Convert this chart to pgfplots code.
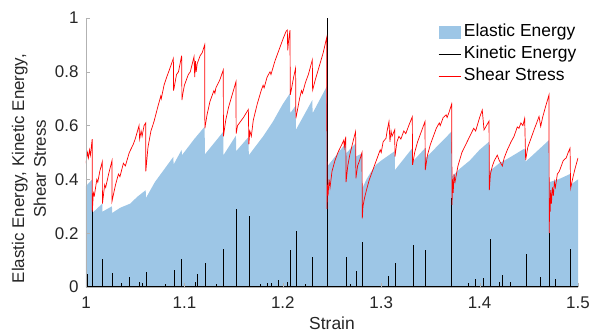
\documentclass[border=0pt]{standalone}
\usepackage{fontspec}
\setmainfont{Liberation Sans}
\usepackage{pgfplots}
\pgfplotsset{compat=1.18}
\definecolor{ebl}{RGB}{157,198,230}
\definecolor{axgray}{RGB}{38,38,38}
\pgfplotsset{
  mylinelegend/.style={legend image code/.code={\draw[##1] (0bp,0bp) -- (22bp,0bp);}},
  myarealegend/.style={legend image code/.code={\fill[ebl] (0bp,-6.5bp) rectangle (22bp,6.5bp);}},
}
\pgfplotstableread{
x y
1.0000 0.375
1.0063 0.40
1.0064 0.275
1.0166 0.31
1.0167 0.28
1.0264 0.30
1.0265 0.275
1.0350 0.295
1.0450 0.31
1.0520 0.335
1.0607 0.36
1.0608 0.33
1.0700 0.39
1.0800 0.44
1.0888 0.484
1.0890 0.455
1.0972 0.51
1.0975 0.49
1.1100 0.55
1.1206 0.596
1.1208 0.493
1.1395 0.577
1.1397 0.49
1.1524 0.563
1.1526 0.505
1.1650 0.557
1.1655 0.49
1.1800 0.56
1.1900 0.615
1.2000 0.68
1.2073 0.72
1.2076 0.646
1.2130 0.674
1.2133 0.584
1.2300 0.695
1.2303 0.646
1.2446 0.745
1.2449 0.447
1.2640 0.534
1.2643 0.497
1.2740 0.534
1.2743 0.485
1.2805 0.497
1.2808 0.367
1.2850 0.40
1.2900 0.43
1.2950 0.455
1.3000 0.47
1.3137 0.505
1.3140 0.435
1.3316 0.516
1.3319 0.466
1.3445 0.516
1.3448 0.478
1.3716 0.578
1.3720 0.41
1.3800 0.44
1.3900 0.47
1.4000 0.51
1.4096 0.54
1.4099 0.43
1.4200 0.46
1.4300 0.48
1.4458 0.515
1.4468 0.466
1.4705 0.546
1.4708 0.39
1.4800 0.40
1.4919 0.42
1.4925 0.38
1.5000 0.40
}\elastic
\pgfplotstableread{
x y
1.0013 0.05
1.0066 0.30
1.0166 0.104
1.0264 0.053
1.0363 0.015
1.0444 0.037
1.0542 0.02
1.0569 0.015
1.0617 0.057
1.0810 0.01
1.0897 0.063
1.0972 0.104
1.1108 0.02
1.1131 0.05
1.1212 0.09
1.1321 0.01
1.1399 0.14
1.1527 0.29
1.1656 0.265
1.1768 0.01
1.1842 0.015
1.1887 0.015
1.1954 0.026
1.2046 0.02
1.2080 0.137
1.2134 0.21
1.2226 0.012
1.2300 0.11
1.2452 1.0
1.2642 0.113
1.2683 0.01
1.2747 0.06
1.2808 0.166
1.2998 0.01
1.3076 0.04
1.3143 0.09
1.3323 0.156
1.3448 0.137
1.3615 0.005
1.3717 0.33
1.3889 0.015
1.3960 0.028
1.4037 0.035
1.4106 0.18
1.4200 0.02
1.4235 0.045
1.4316 0.02
1.4475 0.123
1.4614 0.038
1.4708 0.20
1.4766 0.03
1.4919 0.14
}\kinetic
\pgfplotstableread{
x y
1.0000 0.46
1.0015 0.50
1.0025 0.48
1.0035 0.51
1.0045 0.49
1.0063 0.55
1.0064 0.28
1.0075 0.35
1.0085 0.34
1.0110 0.40
1.0120 0.39
1.0140 0.43
1.0166 0.466
1.0167 0.31
1.0190 0.38
1.0200 0.37
1.0230 0.42
1.0264 0.47
1.0265 0.32
1.0300 0.38
1.0330 0.42
1.0345 0.41
1.0380 0.46
1.0400 0.45
1.0440 0.50
1.0480 0.53
1.0500 0.55
1.0539 0.60
1.0545 0.55
1.0560 0.58
1.0570 0.56
1.0590 0.60
1.0607 0.61
1.0608 0.43
1.0630 0.52
1.0660 0.58
1.0691 0.615
1.0730 0.67
1.0760 0.71
1.0765 0.70
1.0793 0.75
1.0820 0.78
1.0850 0.81
1.0888 0.85
1.0890 0.73
1.0920 0.79
1.0940 0.80
1.0972 0.86
1.0975 0.695
1.0985 0.72
1.1000 0.75
1.1020 0.77
1.1040 0.79
1.1060 0.80
1.1080 0.83
1.1098 0.856
1.1105 0.78
1.1112 0.84
1.1120 0.80
1.1130 0.83
1.1160 0.86
1.1180 0.87
1.1206 0.90
1.1208 0.59
1.1230 0.64
1.1260 0.69
1.1300 0.73
1.1310 0.72
1.1320 0.74
1.1360 0.77
1.1395 0.807
1.1397 0.56
1.1420 0.62
1.1450 0.67
1.1490 0.72
1.1524 0.763
1.1526 0.57
1.1540 0.60
1.1560 0.61
1.1600 0.63
1.1650 0.66
1.1655 0.53
1.1665 0.58
1.1680 0.56
1.1700 0.62
1.1740 0.68
1.1780 0.73
1.1800 0.75
1.1810 0.74
1.1840 0.78
1.1870 0.80
1.1880 0.79
1.1920 0.84
1.1960 0.88
1.2000 0.92
1.2033 0.95
1.2046 0.955
1.2050 0.88
1.2060 0.92
1.2073 0.955
1.2076 0.714
1.2090 0.74
1.2110 0.78
1.2130 0.813
1.2133 0.627
1.2150 0.66
1.2170 0.70
1.2190 0.73
1.2200 0.72
1.2230 0.76
1.2260 0.79
1.2300 0.844
1.2303 0.732
1.2330 0.77
1.2370 0.82
1.2410 0.87
1.2446 0.927
1.2449 0.29
1.2455 0.38
1.2460 0.34
1.2470 0.40
1.2480 0.37
1.2500 0.43
1.2530 0.47
1.2560 0.50
1.2600 0.53
1.2620 0.546
1.2625 0.52
1.2640 0.559
1.2643 0.39
1.2660 0.45
1.2680 0.49
1.2700 0.52
1.2720 0.55
1.2740 0.578
1.2743 0.404
1.2760 0.45
1.2780 0.47
1.2805 0.50
1.2808 0.255
1.2815 0.30
1.2830 0.33
1.2850 0.36
1.2880 0.40
1.2920 0.44
1.2960 0.48
1.2990 0.51
1.3000 0.50
1.3020 0.54
1.3049 0.553
1.3060 0.58
1.3079 0.615
1.3089 0.54
1.3100 0.58
1.3110 0.56
1.3137 0.584
1.3140 0.485
1.3160 0.54
1.3180 0.56
1.3200 0.55
1.3230 0.58
1.3250 0.57
1.3280 0.60
1.3316 0.633
1.3319 0.454
1.3340 0.50
1.3370 0.54
1.3400 0.57
1.3445 0.615
1.3448 0.435
1.3470 0.49
1.3500 0.53
1.3530 0.56
1.3560 0.59
1.3590 0.61
1.3600 0.60
1.3630 0.63
1.3660 0.64
1.3670 0.63
1.3690 0.65
1.3716 0.68
1.3720 0.305
1.3725 0.40
1.3732 0.35
1.3740 0.42
1.3750 0.39
1.3780 0.45
1.3820 0.50
1.3860 0.53
1.3900 0.56
1.3940 0.59
1.3960 0.58
1.4000 0.63
1.4027 0.658
1.4045 0.584
1.4070 0.60
1.4096 0.617
1.4099 0.36
1.4110 0.42
1.4130 0.45
1.4150 0.47
1.4180 0.49
1.4200 0.47
1.4231 0.45
1.4250 0.48
1.4282 0.51
1.4320 0.54
1.4350 0.56
1.4383 0.595
1.4400 0.59
1.4420 0.61
1.4440 0.60
1.4458 0.627
1.4468 0.472
1.4490 0.52
1.4520 0.55
1.4553 0.584
1.4580 0.61
1.4604 0.634
1.4621 0.597
1.4640 0.63
1.4670 0.67
1.4705 0.714
1.4708 0.20
1.4712 0.33
1.4718 0.28
1.4722 0.36
1.4730 0.31
1.4740 0.37
1.4750 0.34
1.4760 0.39
1.4770 0.37
1.4790 0.42
1.4810 0.43
1.4830 0.45
1.4850 0.47
1.4880 0.48
1.4900 0.50
1.4919 0.516
1.4925 0.367
1.4950 0.41
1.4970 0.44
1.5000 0.48
}\stress
\begin{document}
\begin{tikzpicture}
\path[use as bounding box] (-86bp,-48bp) rectangle (505bp,287bp);
\begin{axis}[at={(0,0)}, anchor=south west, scale only axis,
  width=492bp, height=269bp,
  xmin=1, xmax=1.5, ymin=0, ymax=1,
  axis lines=left, axis line style={-, draw=gray!60},
  axis on top,
  tick align=inside, major tick length=4bp, tick style={gray!60},
  xtick={1,1.1,1.2,1.3,1.4,1.5}, ytick={0,0.2,0.4,0.6,0.8,1},
  xticklabels={1,1.1,1.2,1.3,1.4,1.5}, yticklabels={0,0.2,0.4,0.6,0.8,1},
  ticklabel style={font=\fontsize{17}{19}\selectfont, text=axgray},
  xticklabel style={yshift=-6bp},
  yticklabel style={xshift=-4bp},
  xlabel={Strain},
  xlabel style={font=\fontsize{17.5}{20}\selectfont, text=axgray, at={(axis description cs:0.5,-0.135)}, anchor=center},
  ylabel={Elastic Energy, Kinetic Energy,\\Shear Stress},
  ylabel style={font=\fontsize{17}{22}\selectfont, text=axgray, align=center, at={(axis description cs:-0.1159,0.44)}, anchor=center},
  legend style={at={(axis description cs:0.7154,0.98)}, anchor=north west, draw=none, fill=none,
    font=\fontsize{17.5}{20}\selectfont, inner sep=0pt, row sep=5bp, column sep=3bp,
    nodes={inner sep=0pt, text height=13bp, text depth=4bp}},
  legend cell align=left,
  no markers,
]
\addplot[fill=ebl, draw=none, myarealegend] table {\elastic} \closedcycle;
\addlegendentry{Elastic Energy}
\addplot[ycomb, black, line width=0.6pt, forget plot] table {\kinetic};
\addplot[black, line width=0.5pt, forget plot] coordinates {(1,0.003) (1.5,0.003)};
\addlegendimage{black, line width=0.6pt, mylinelegend}
\addlegendentry{Kinetic Energy}
\addplot[red, line width=0.7pt, mylinelegend] table {\stress};
\addlegendentry{Shear Stress}
\end{axis}
\end{tikzpicture}
\end{document}
